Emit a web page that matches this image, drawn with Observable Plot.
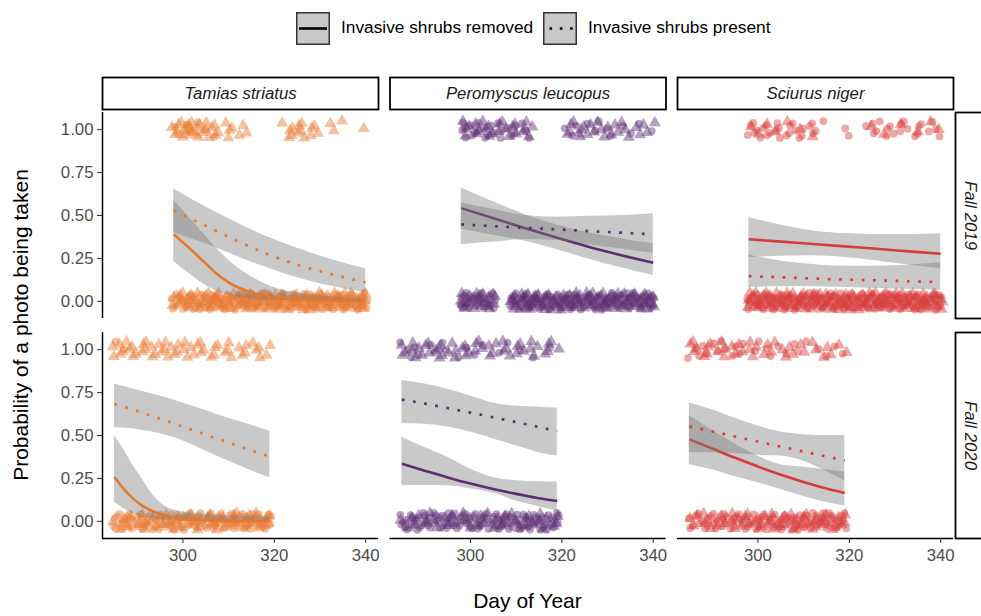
<!DOCTYPE html>
<html>
<head>
<meta charset="utf-8">
<script src="https://cdn.jsdelivr.net/npm/d3@7"></script>
<script src="https://cdn.jsdelivr.net/npm/@observablehq/plot@0.6"></script>
<style>
  html, body { margin: 0; padding: 0; background: #fff; }
  body { font-family: "Liberation Sans", Arial, Helvetica, sans-serif; }
  #wrap { position: relative; width: 981px; height: 616px; overflow: hidden; }
  #legend { position: relative; width: 981px; height: 60px; }
  .key { position: absolute; top: 12px; width: 34px; height: 33px; }
  .ktxt { position: absolute; top: 28px; transform: translateY(-50%); font-size: 17.3px; color: #000; white-space: nowrap; line-height: 1; }
</style>
</head>
<body>
<div id="wrap">
  <div id="legend">
    <svg class="key" style="left:296px" width="34" height="33">
      <rect x="0.75" y="0.75" width="32.5" height="31.5" fill="#c8c8c8" stroke="#333" stroke-width="1.5"></rect>
      <line x1="3" x2="31" y1="16.5" y2="16.5" stroke="#000" stroke-width="2.6"></line>
    </svg>
    <div class="ktxt" style="left:341px">Invasive shrubs removed</div>
    <svg class="key" style="left:543px" width="34" height="33">
      <rect x="0.75" y="0.75" width="32.5" height="31.5" fill="#c8c8c8" stroke="#333" stroke-width="1.5"></rect>
      <line x1="6.5" x2="31" y1="16.5" y2="16.5" stroke="#000" stroke-width="2.6" stroke-dasharray="2.6 7.7"></line>
    </svg>
    <div class="ktxt" style="left:588px">Invasive shrubs present</div>
  </div>
  <div id="chart"></div>
</div>
<script>
// ---------------- data ----------------
const speciesNames = ["Tamias striatus", "Peromyscus leucopus", "Sciurus niger"];
const speciesColors = ["#E8772E", "#5E2C70", "#D63C3A"];
const seasons = ["Fall 2019", "Fall 2020"];
const treatments = ["Invasive shrubs removed", "Invasive shrubs present"];
const xTicks = [300, 320, 340];
const yTicks = [0, 0.25, 0.5, 0.75, 1];

const days2019 = [298,299,300,301,302,303,304,305,306,307,308,309,310,311,312,313,314,315,316,317,318,319,320,321,322,323,324,325,326,327,328,329,330,331,332,333,334,335,336,337,338,339,340];
const days2020 = [285,286,287,288,289,290,291,292,293,294,295,296,297,298,299,300,301,302,303,304,305,306,307,308,309,310,311,312,313,314,315,316,317,318,319];

// counts of camera-days per day: detections (photo = 1) and non-detections (photo = 0)
const tamias2019RemovedDet = [1,1,0,1,1,1,0,1,0,1, 0,0,0,0,0,0,0,0,0,0, 0,0,0,0,0,0,0,0,0,0, 0,0,0,0,0,0,0,0,0,0, 0,0,0];
const tamias2019PresentDet = [2,2,3,3,3,3,2,2,2,2, 1,1,2,1,1,1,1,0,0,0, 0,0,0,0,1,2,2,2,2,1, 2,1,1,0,1,1,0,1,0,0, 0,0,1];
const tamias2019RemovedNon = [3,3,3,3,4,3,3,3,4,3, 3,3,4,3,3,3,3,4,3,3, 3,4,3,3,3,3,4,3,3,3, 3,4,3,3,3,3,3,4,3,3, 3,4,3];
const tamias2019PresentNon = [2,2,2,3,2,2,3,2,3,3, 3,3,2,3,3,3,3,3,3,3, 3,3,3,3,3,2,3,3,3,3, 3,3,3,3,3,3,3,3,3,3, 3,3,3];

const peromyscus2019RemovedDet = [2,2,2,1,2,2,1,2,1,2, 1,1,2,1,1,1,0,0,0,0, 0,0,0,1,1,1,1,0,1,1, 1,0,1,1,0,1,0,1,0,1, 0,0,1];
const peromyscus2019PresentDet = [1,2,1,2,1,2,2,1,2,1, 2,1,2,1,2,1,1,0,0,0, 0,0,0,1,2,1,2,1,2,1, 1,2,1,1,2,1,1,1,1,1, 1,1,1];
const peromyscus2019RemovedNon = [3,3,3,2,3,2,3,3,0,0, 0,3,3,3,4,3,3,3,3,3, 3,3,4,3,3,3,3,2,3,3, 3,3,3,3,3,2,3,3,3,3, 3,3,3];
const peromyscus2019PresentNon = [3,3,2,3,3,3,3,3,0,0, 0,3,3,3,3,4,3,3,3,3, 3,3,3,3,3,4,3,3,3,3, 3,3,3,3,4,3,3,3,3,3, 3,3,3];

const sciurus2019RemovedDet = [2,2,1,2,2,1,2,2,1,2, 2,1,2,1,2,1,1,0,0,0, 0,1,1,0,0,0,1,2,1,1, 2,1,1,2,1,1,1,2,1,1, 1,1,1];
const sciurus2019PresentDet = [1,0,1,0,1,0,1,0,1,0, 0,1,0,0,1,0,0,0,0,0, 0,0,0,0,0,0,0,1,0,0, 1,0,0,1,0,0,0,1,0,0, 1,0,1];
const sciurus2019RemovedNon = [3,2,3,3,3,2,3,3,3,3, 2,3,3,3,3,3,2,3,3,3, 3,3,3,2,3,3,3,3,3,2, 3,3,3,3,2,3,3,3,3,3, 2,3,3];
const sciurus2019PresentNon = [4,3,4,3,4,4,3,4,3,4, 4,3,4,3,4,3,4,4,3,4, 3,4,4,3,4,3,4,3,4,4, 3,4,3,4,4,3,4,3,4,3, 4,4,3];

const tamias2020RemovedDet = [1,0,1,0,0,0,0,0,0,0, 0,0,0,0,0,0,0,0,0,0, 0,0,0,0,0,0,0,0,0,0, 0,0,0,0,0];
const tamias2020PresentDet = [2,2,1,2,2,1,2,2,2,1, 2,2,2,1,2,2,1,2,1,2, 1,1,2,1,1,2,1,1,1,2, 1,1,2,1,1];
const tamias2020RemovedNon = [3,3,3,4,3,3,4,3,3,3, 4,3,3,3,4,3,3,3,4,3, 3,3,4,3,3,3,4,3,3,3, 4,3,3,3,3];
const tamias2020PresentNon = [1,1,1,1,1,1,1,2,1,1, 1,2,1,1,2,1,1,2,1,2, 1,2,2,1,2,1,2,2,1,2, 2,1,2,2,2];

const peromyscus2020RemovedDet = [1,1,1,1,1,0,1,1,0,1, 1,0,1,0,1,0,1,0,1,0, 0,1,0,1,0,0,1,0,0,1, 0,0,1,0,0];
const peromyscus2020PresentDet = [2,1,2,1,2,1,2,1,2,2, 1,1,2,1,2,1,2,1,1,2, 1,1,2,1,1,2,1,1,2,1, 1,1,2,1,1];
const peromyscus2020RemovedNon = [3,3,3,3,3,4,3,3,3,3, 3,4,3,3,3,3,3,4,3,3, 3,3,4,3,3,3,3,3,4,3, 3,3,3,4,3];
const peromyscus2020PresentNon = [1,1,1,1,1,1,1,1,1,1, 1,1,1,1,1,2,1,1,1,1, 2,1,1,2,1,1,1,2,1,1, 2,1,1,1,2];

const sciurus2020RemovedDet = [1,1,1,1,1,1,1,1,1,1, 1,1,1,0,1,1,0,1,1,1, 0,1,0,1,1,0,1,0,1,0, 1,0,1,0,1];
const sciurus2020PresentDet = [1,2,1,1,2,1,1,1,2,1, 1,1,1,2,1,1,1,1,1,1, 1,1,1,1,1,1,0,1,1,1, 1,1,0,1,1];
const sciurus2020RemovedNon = [2,2,2,2,2,3,2,2,3,2, 3,2,3,3,2,3,3,2,3,3, 3,3,3,3,3,3,3,3,3,3, 3,3,3,3,3];
const sciurus2020PresentNon = [1,1,1,2,1,1,2,1,1,2, 1,2,1,2,1,2,2,1,2,1, 2,2,1,2,2,2,1,2,2,2, 2,2,1,2,2];

// fitted probabilities with confidence bands
const fitDays2019 = [298,305,312,319,326,333,340];
const fitDays2020 = [285,290,295,300,305,310,315,319];

const tamias2019RemovedDay = [298,301,304,307,310,314,319,326,333,340];
const tamias2019RemovedFit = [0.39,0.32,0.245,0.17,0.11,0.06,0.027,0.01,0.004,0.002];
const tamias2019RemovedLo  = [0.23,0.17,0.11,0.065,0.035,0.015,0.005,0.001,0,0];
const tamias2019RemovedHi  = [0.59,0.50,0.41,0.32,0.24,0.16,0.09,0.045,0.025,0.015];
const tamias2019PresentFit = [0.53,0.44,0.35,0.27,0.205,0.155,0.11];
const tamias2019PresentLo  = [0.40,0.335,0.26,0.19,0.13,0.085,0.05];
const tamias2019PresentHi  = [0.655,0.55,0.455,0.37,0.30,0.24,0.19];

const peromyscus2019RemovedFit = [0.543,0.484,0.426,0.37,0.317,0.269,0.225];
const peromyscus2019RemovedLo  = [0.42,0.385,0.35,0.30,0.245,0.195,0.15];
const peromyscus2019RemovedHi  = [0.66,0.58,0.505,0.445,0.40,0.365,0.335];
const peromyscus2019PresentFit = [0.448,0.438,0.428,0.419,0.409,0.40,0.39];
const peromyscus2019PresentLo  = [0.33,0.345,0.36,0.355,0.33,0.305,0.28];
const peromyscus2019PresentHi  = [0.575,0.535,0.50,0.49,0.495,0.50,0.51];

const sciurus2019RemovedFit = [0.362,0.348,0.334,0.320,0.306,0.291,0.277];
const sciurus2019RemovedLo  = [0.255,0.262,0.265,0.255,0.235,0.212,0.19];
const sciurus2019RemovedHi  = [0.487,0.445,0.41,0.395,0.39,0.39,0.394];
const sciurus2019PresentFit = [0.147,0.140,0.133,0.127,0.122,0.117,0.112];
const sciurus2019PresentLo  = [0.08,0.085,0.085,0.08,0.075,0.07,0.065];
const sciurus2019PresentHi  = [0.27,0.235,0.215,0.205,0.205,0.212,0.225];

const tamias2020RemovedDay = [285,287,289,291,293,296,300,305,312,319];
const tamias2020RemovedFit = [0.258,0.19,0.135,0.093,0.063,0.035,0.015,0.0055,0.0012,0.0003];
const tamias2020RemovedLo  = [0.11,0.075,0.045,0.027,0.016,0.007,0.002,0.0005,0,0];
const tamias2020RemovedHi  = [0.50,0.42,0.33,0.25,0.17,0.09,0.055,0.04,0.03,0.025];
const tamias2020PresentFit = [0.684,0.642,0.598,0.552,0.505,0.459,0.413,0.378];
const tamias2020PresentLo  = [0.545,0.535,0.51,0.47,0.41,0.35,0.295,0.254];
const tamias2020PresentHi  = [0.80,0.765,0.73,0.69,0.645,0.60,0.56,0.525];

const peromyscus2020RemovedFit = [0.335,0.295,0.256,0.22,0.188,0.16,0.135,0.118];
const peromyscus2020RemovedLo  = [0.209,0.209,0.207,0.19,0.165,0.118,0.085,0.06];
const peromyscus2020RemovedHi  = [0.49,0.43,0.374,0.305,0.255,0.237,0.231,0.229];
const peromyscus2020PresentFit = [0.709,0.686,0.66,0.633,0.606,0.578,0.549,0.525];
const peromyscus2020PresentLo  = [0.57,0.565,0.55,0.52,0.48,0.44,0.40,0.38];
const peromyscus2020PresentHi  = [0.82,0.80,0.77,0.73,0.69,0.67,0.665,0.66];

const sciurus2020RemovedFit = [0.477,0.424,0.37,0.319,0.271,0.229,0.191,0.165];
const sciurus2020RemovedLo  = [0.33,0.30,0.26,0.225,0.185,0.145,0.11,0.09];
const sciurus2020RemovedHi  = [0.617,0.53,0.45,0.38,0.33,0.315,0.30,0.288];
const sciurus2020PresentFit = [0.552,0.524,0.494,0.465,0.435,0.406,0.378,0.355];
const sciurus2020PresentLo  = [0.40,0.40,0.395,0.385,0.38,0.35,0.29,0.234];
const sciurus2020PresentHi  = [0.69,0.65,0.60,0.555,0.52,0.505,0.50,0.50];

// ---------------- tables for the library ----------------
const [REM, PRE] = treatments;
const [S0, S1, S2] = speciesNames;
const [Y19, Y20] = seasons;

const panels = [
  [S0, Y19, days2019, tamias2019RemovedDet, tamias2019PresentDet, tamias2019RemovedNon, tamias2019PresentNon],
  [S1, Y19, days2019, peromyscus2019RemovedDet, peromyscus2019PresentDet, peromyscus2019RemovedNon, peromyscus2019PresentNon],
  [S2, Y19, days2019, sciurus2019RemovedDet, sciurus2019PresentDet, sciurus2019RemovedNon, sciurus2019PresentNon],
  [S0, Y20, days2020, tamias2020RemovedDet, tamias2020PresentDet, tamias2020RemovedNon, tamias2020PresentNon],
  [S1, Y20, days2020, peromyscus2020RemovedDet, peromyscus2020PresentDet, peromyscus2020RemovedNon, peromyscus2020PresentNon],
  [S2, Y20, days2020, sciurus2020RemovedDet, sciurus2020PresentDet, sciurus2020RemovedNon, sciurus2020PresentNon]
];

// deterministic jitter (geom_jitter look) from a low-discrepancy sequence
const frac = v => v - Math.floor(v);
const points = [];
let k = 0;
for (const [species, season, days, rDet, pDet, rNon, pNon] of panels) {
  const group = [];
  const add = (treatment, counts, outcome) => days.forEach((d, i) => {
    for (let j = 0; j < counts[i]; j++) {
      k++;
      group.push({species, season, treatment, day: d, outcome,
        jx: d + (frac(0.5 + k * 0.7548776662) - 0.5) * 0.9,
        jy: outcome + (frac(0.5 + k * 0.5698402910) - 0.5) * 0.1,
        ord: frac(k * 0.6180339887)});
    }
  });
  add(REM, rNon, 0); add(PRE, pNon, 0); add(REM, rDet, 1); add(PRE, pDet, 1);
  group.sort((a, b) => a.ord - b.ord);
  points.push(...group);
}

const curves = [];
function addCurve(species, season, treatment, day, fit, lo, hi) {
  day.forEach((d, i) => curves.push({species, season, treatment, key: species + season + treatment, day: d, fit: fit[i], lo: lo[i], hi: hi[i]}));
}
addCurve(S0, Y19, REM, tamias2019RemovedDay, tamias2019RemovedFit, tamias2019RemovedLo, tamias2019RemovedHi);
addCurve(S0, Y19, PRE, fitDays2019, tamias2019PresentFit, tamias2019PresentLo, tamias2019PresentHi);
addCurve(S1, Y19, REM, fitDays2019, peromyscus2019RemovedFit, peromyscus2019RemovedLo, peromyscus2019RemovedHi);
addCurve(S1, Y19, PRE, fitDays2019, peromyscus2019PresentFit, peromyscus2019PresentLo, peromyscus2019PresentHi);
addCurve(S2, Y19, REM, fitDays2019, sciurus2019RemovedFit, sciurus2019RemovedLo, sciurus2019RemovedHi);
addCurve(S2, Y19, PRE, fitDays2019, sciurus2019PresentFit, sciurus2019PresentLo, sciurus2019PresentHi);
addCurve(S0, Y20, REM, tamias2020RemovedDay, tamias2020RemovedFit, tamias2020RemovedLo, tamias2020RemovedHi);
addCurve(S0, Y20, PRE, fitDays2020, tamias2020PresentFit, tamias2020PresentLo, tamias2020PresentHi);
addCurve(S1, Y20, REM, fitDays2020, peromyscus2020RemovedFit, peromyscus2020RemovedLo, peromyscus2020RemovedHi);
addCurve(S1, Y20, PRE, fitDays2020, peromyscus2020PresentFit, peromyscus2020PresentLo, peromyscus2020PresentHi);
addCurve(S2, Y20, REM, fitDays2020, sciurus2020RemovedFit, sciurus2020RemovedLo, sciurus2020RemovedHi);
addCurve(S2, Y20, PRE, fitDays2020, sciurus2020PresentFit, sciurus2020PresentLo, sciurus2020PresentHi);
const removedCurves = curves.filter(d => d.treatment === REM);
const presentCurves = curves.filter(d => d.treatment === PRE);

// ---------------- layout ----------------
const W = 981, H = 556;
const mT = 52, mB = 78, mL = 102, mR = 28;
const fxPad = 0.04, fyPad = 14 / 220;
const fxBw = (W - mL - mR) * (1 - fxPad) / (speciesNames.length - fxPad);
const fyBw = (H - mT - mB) * (1 - fyPad) / (seasons.length - fyPad);
const xDomain = [282.4, 342.8];
const yDomain = [-0.1, 1.1];
const curveType = "monotone-x";
const pointRadius = t => (t === PRE ? 4.5 : 3.9);

const plot = Plot.plot({
  width: W, height: H,
  marginTop: mT, marginBottom: mB, marginLeft: mL, marginRight: mR,
  style: {fontFamily: "'Liberation Sans', Arial, Helvetica, sans-serif", fontSize: "16.8px", background: "#fff", color: "#1a1a1a", overflow: "hidden"},
  x: {domain: xDomain},
  y: {domain: yDomain},
  r: {type: "identity"},
  fx: {domain: speciesNames, paddingInner: fxPad, paddingOuter: 0, round: false, axis: null},
  fy: {domain: seasons, paddingInner: fyPad, paddingOuter: 0, round: false, axis: null},
  color: {domain: speciesNames, range: speciesColors},
  symbol: {domain: treatments, range: ["circle", "triangle"]},
  marks: [
    Plot.dot(points, {x: "jx", y: "jy", fx: "species", fy: "season", symbol: "treatment", fill: "species", fillOpacity: 0.45, stroke: null, r: d => pointRadius(d.treatment)}),
    Plot.areaY(removedCurves, {x: "day", y1: "lo", y2: "hi", fx: "species", fy: "season", z: "key", fill: "#7f7f7f", fillOpacity: 0.42, curve: curveType}),
    Plot.line(removedCurves, {x: "day", y: "fit", fx: "species", fy: "season", z: "key", stroke: "species", strokeWidth: 2.6, strokeLinecap: "butt", curve: curveType}),
    Plot.areaY(presentCurves, {x: "day", y1: "lo", y2: "hi", fx: "species", fy: "season", z: "key", fill: "#7f7f7f", fillOpacity: 0.42, curve: curveType}),
    Plot.line(presentCurves, {x: "day", y: "fit", fx: "species", fy: "season", z: "key", stroke: "species", strokeWidth: 2.7, strokeLinecap: "butt", strokeDasharray: "2.7 8.6", curve: curveType}),
    Plot.ruleY([yDomain[0]], {facetAnchor: "bottom", stroke: "#000", strokeWidth: 1.5}),
    Plot.ruleX([xDomain[0]], {facetAnchor: "left", stroke: "#000", strokeWidth: 1.5}),
    Plot.axisY({ticks: yTicks, tickFormat: d3.format(".2f"), tickSize: 5, tickPadding: 4, label: null, stroke: "#333", fill: "#4d4d4d"}),
    Plot.axisX({ticks: xTicks, tickFormat: d => String(d), tickSize: 5, tickPadding: 6, label: null, stroke: "#333", fill: "#4d4d4d"}),
    Plot.frame({facetAnchor: "top", insetTop: -35, insetBottom: fyBw + 3, stroke: "#000", strokeWidth: 1.8}),
    Plot.text(speciesNames, {fx: d => d, text: d => d, frameAnchor: "top", dy: -19, lineAnchor: "middle", textAnchor: "middle", facetAnchor: "top", fontStyle: "italic", fill: "#1a1a1a"}),
    Plot.frame({facetAnchor: "right", insetLeft: fxBw + 2, insetRight: -40, stroke: "#000", strokeWidth: 1.8}),
    Plot.text(seasons, {fy: d => d, text: d => d, frameAnchor: "right", dx: 17, rotate: 90, lineAnchor: "middle", textAnchor: "middle", facetAnchor: "right", fontStyle: "italic", fill: "#1a1a1a"})
  ]
});

const svg = d3.select(plot);
svg.append("text")
  .attr("transform", `translate(20,${mT + (H - mT - mB) / 2}) rotate(-90)`)
  .attr("text-anchor", "middle").attr("dominant-baseline", "central")
  .attr("font-size", 21).attr("fill", "#000")
  .text("Probability of a photo being taken");
svg.append("text")
  .attr("x", mL + (W - mL - mR) / 2).attr("y", 540)
  .attr("text-anchor", "middle").attr("dominant-baseline", "central")
  .attr("font-size", 21).attr("fill", "#000")
  .text("Day of Year");

document.getElementById("chart").appendChild(plot);
</script>
</body>
</html>
